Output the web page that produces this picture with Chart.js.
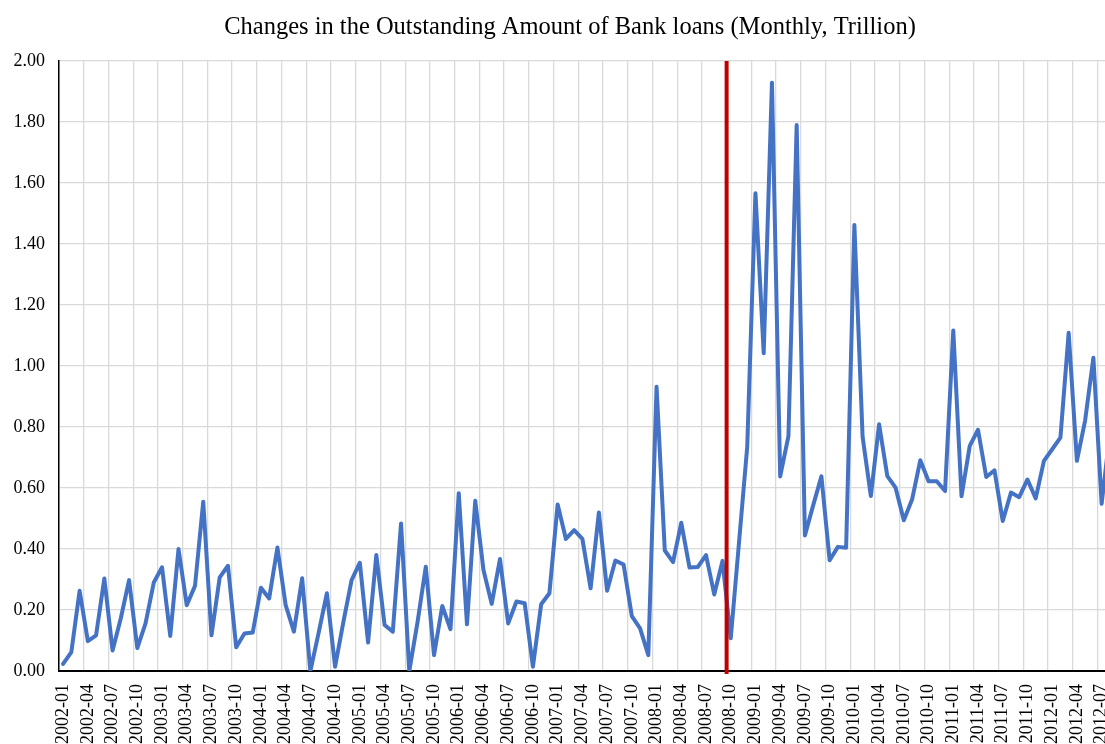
<!DOCTYPE html>
<html>
<head>
<meta charset="utf-8">
<title>Bank loans</title>
<script src="https://cdn.jsdelivr.net/npm/chart.js@4.4.1/dist/chart.umd.min.js"></script>
<style>
  html, body { margin: 0; padding: 0; background: #fff; overflow: hidden; }
  #wrap { width: 1140px; height: 744px; }
</style>
</head>
<body>
<div id="wrap"><canvas id="loansChart" width="1140" height="744"></canvas></div>
<script>
// monthly categories, 2002-01 .. 2012-08
const startYear = 2002;
const monthCount = 128;
const months = [];
for (let i = 0; i < monthCount; i++) {
  const y = startYear + Math.floor(i / 12);
  const m = (i % 12) + 1;
  months.push(`${y}-${String(m).padStart(2, '0')}`);
}

// change in outstanding bank loans, trillion
const loanChange = [
  0.023, 0.062, 0.263, 0.098, 0.117, 0.303, 0.067, 0.173, 0.298, 0.075, 0.156, 0.290,
  0.340, 0.115, 0.400, 0.216, 0.279, 0.555, 0.117, 0.307, 0.345, 0.078, 0.123, 0.126,
  0.273, 0.238, 0.405, 0.216, 0.129, 0.304, 0.000, 0.125, 0.255, 0.014, 0.160, 0.298,
  0.355, 0.093, 0.380, 0.151, 0.129, 0.484, 0.000, 0.160, 0.342, 0.052, 0.213, 0.137,
  0.583, 0.153, 0.558, 0.331, 0.220, 0.367, 0.156, 0.228, 0.222, 0.014, 0.219, 0.255,
  0.546, 0.433, 0.462, 0.433, 0.271, 0.520, 0.263, 0.362, 0.349, 0.180, 0.140, 0.052,
  0.932, 0.395, 0.357, 0.486, 0.339, 0.341, 0.380, 0.251, 0.361, 0.107, 0.420, 0.735,
  1.566, 1.042, 1.929, 0.638, 0.770, 1.790, 0.444, 0.543, 0.638, 0.363, 0.407, 0.404,
  1.462, 0.767, 0.574, 0.809, 0.639, 0.601, 0.494, 0.562, 0.691, 0.622, 0.622, 0.590,
  1.116, 0.573, 0.738, 0.791, 0.636, 0.658, 0.492, 0.585, 0.570, 0.628, 0.566, 0.689,
  0.727, 0.765, 1.109, 0.689, 0.822, 1.027, 0.548, 0.780
];

const yTicks = [0, 0.2, 0.4, 0.6, 0.8, 1.0, 1.2, 1.4, 1.6, 1.8, 2.0];
const labelEvery = 3;
const markerMonth = '2008-10';

const serif = "'Liberation Serif', 'Times New Roman', serif";

// red vertical rule on the left edge of the marker month
const markerLine = {
  id: 'markerLine',
  afterDatasetsDraw(chart) {
    const x = chart.scales.x;
    const idx = months.indexOf(markerMonth);
    if (idx < 1) return;
    const px = (x.getPixelForValue(idx - 1) + x.getPixelForValue(idx)) / 2;
    const { top, bottom } = chart.chartArea;
    const ctx = chart.ctx;
    ctx.save();
    ctx.strokeStyle = '#c00000';
    ctx.lineWidth = 4;
    ctx.beginPath();
    ctx.moveTo(px, top);
    ctx.lineTo(px, bottom + 3);
    ctx.stroke();
    ctx.restore();
  },
};

const ctx = document.getElementById('loansChart').getContext('2d');
new Chart(ctx, {
  type: 'line',
  data: {
    labels: months,
    datasets: [{
      label: 'Changes',
      data: loanChange,
      borderColor: '#4472c4',
      borderWidth: 4,
      borderJoinStyle: 'round',
      borderCapStyle: 'round',
      pointRadius: 0,
      tension: 0,
      fill: false,
    }],
  },
  options: {
    responsive: false,
    animation: false,
    devicePixelRatio: 1,
    layout: { padding: 0 },
    scales: {
      x: {
        type: 'category',
        offset: true,
        afterFit(scale) {
          scale.height = 73;
          scale.paddingRight = 0;
        },
        grid: {
          offset: true,
          drawTicks: false,
          lineWidth: 1.3,
          color: (c) => (c.index % labelEvery === 0 ? '#d9d9d9' : 'rgba(0,0,0,0)'),
        },
        border: { color: '#000', width: 2 },
        ticks: {
          autoSkip: false,
          maxRotation: 90,
          minRotation: 90,
          padding: 13,
          color: '#000',
          font: { family: serif, size: 18 },
          callback(value, index) {
            return index % labelEvery === 0 ? months[index] : '';
          },
        },
      },
      y: {
        min: yTicks[0],
        max: yTicks[yTicks.length - 1],
        afterFit(scale) { scale.width = 59; },
        afterBuildTicks(scale) { scale.ticks = yTicks.map((v) => ({ value: v })); },
        grid: { drawTicks: false, color: '#d9d9d9', lineWidth: 1.3 },
        border: { color: '#000', width: 1.5 },
        ticks: {
          padding: 14,
          color: '#000',
          font: { family: serif, size: 18 },
          callback(value) { return Number(value).toFixed(2); },
        },
      },
      // empty right-hand gutter so the title stays centred on the full width
      gutter: {
        position: 'right',
        afterFit(scale) { scale.width = 26; },
        grid: { display: false, drawTicks: false },
        border: { display: false },
        ticks: { display: false },
      },
    },
    plugins: {
      legend: { display: false },
      tooltip: { enabled: false },
      title: {
        display: true,
        text: 'Changes in the Outstanding Amount of Bank loans (Monthly, Trillion)',
        color: '#000',
        font: { family: serif, size: 24.5, weight: 'normal' },
        padding: { top: 13, bottom: 18.6 },
      },
    },
  },
  plugins: [markerLine],
});
</script>
</body>
</html>
